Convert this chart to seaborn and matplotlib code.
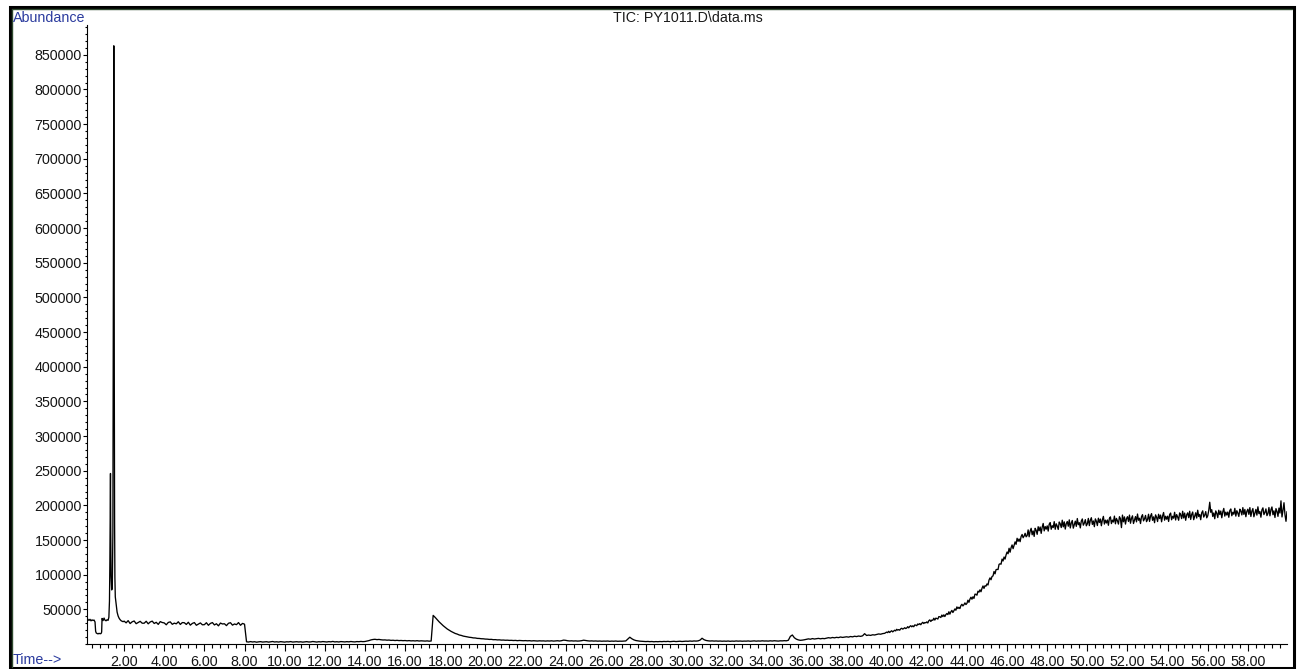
import numpy as np
import pandas as pd
import matplotlib
matplotlib.use("Agg")
import matplotlib.pyplot as plt
from matplotlib.patches import Rectangle
from matplotlib.lines import Line2D
from matplotlib.ticker import FixedLocator, MultipleLocator, FuncFormatter
import seaborn as sns

# ---------------------------------------------------------------------------
# Total ion chromatogram, run PY1011.D  (abundance in thousands of counts)
# ---------------------------------------------------------------------------
TITLE = "TIC: PY1011.D\\data.ms"

# Solvent front / injection region, irregular scan times (min)
early_min = [0.15, 0.2, 0.25, 0.3, 0.35, 0.4, 0.45, 0.5, 0.55, 0.58,
             0.61, 0.65, 0.7, 0.75, 0.8, 0.85, 0.88, 0.9, 0.95, 1.0,
             1.05, 1.1, 1.15, 1.2, 1.24, 1.27, 1.29, 1.31, 1.32, 1.33,
             1.35, 1.38, 1.41, 1.44, 1.46, 1.475, 1.486, 1.50, 1.51, 1.525,
             1.54, 1.56, 1.6, 1.65, 1.7, 1.75, 1.8, 1.85, 1.9, 1.95]
early_k = [37.5, 35.2, 34.1, 35.6, 33.4, 34.8, 33.9, 34.6, 31.8, 18.5,
           15.9, 15.2, 14.6, 15.4, 14.8, 15.1, 17.2, 36.9, 33.8, 37.4,
           34.2, 33.5, 35.0, 34.1, 38.5, 62.0, 118.0, 205.0, 246.0, 175.0,
           98.0, 78.0, 80.5, 160.0, 470.0, 760.0, 863.0, 640.0, 390.0, 175.0,
           96.0, 68.0, 58.5, 46.0, 40.5, 37.2, 35.1, 33.6, 32.8, 32.2]

# Scans 0.1 min apart, one row per minute
tic_2_to_8 = [  # from 2.0 min
    33.0, 30.5, 33.7, 29.5, 32.0, 33.2, 29.3, 31.0, 32.7, 30.0,
    30.0, 32.8, 29.1, 31.8, 33.0, 29.6, 31.3, 28.3, 32.3, 31.0,
    30.4, 27.7, 31.1, 31.9, 28.4, 30.1, 29.1, 32.1, 28.2, 30.9,
    30.7, 28.2, 31.4, 27.2, 29.7, 30.9, 27.0, 28.7, 30.4, 27.7,
    27.9, 30.7, 27.0, 29.7, 30.9, 27.5, 29.2, 26.2, 30.2, 28.9,
    29.2, 26.5, 29.9, 30.7, 27.2, 28.9, 27.9, 30.9, 27.0, 29.7,
]
tic_8_to_17 = [  # from 8.0 min
    28.6, 3.2, 2.8, 3.5, 2.9, 3.3, 2.6, 3.1, 3.4, 2.8,
    3.0, 3.3, 2.7, 3.1, 3.6, 2.9, 3.2, 2.8, 3.4, 3.0,
    2.7, 3.2, 3.0, 3.5, 2.8, 3.1, 3.3, 2.9, 3.2, 2.7,
    3.1, 3.4, 2.9, 3.0, 3.6, 3.2, 2.8, 3.3, 3.0, 3.5,
    3.2, 2.9, 3.4, 3.1, 3.7, 3.0, 3.3, 2.9, 3.5, 3.2,
    3.0, 3.4, 3.1, 3.6, 3.2, 3.0, 3.5, 3.3, 3.7, 3.4,
    3.6, 4.2, 4.9, 5.9, 6.5, 6.8, 6.3, 6.6, 6.1, 5.8,
    5.9, 5.5, 5.7, 5.2, 5.4, 5.0, 5.3, 4.9, 5.1, 4.8,
    5.0, 4.6, 4.9, 4.5, 4.7, 4.4, 4.8, 4.3, 4.6, 4.4,
    4.2, 4.5, 4.1, 4.3,
]
tic_17_to_36 = [  # from 17.4 min
    41.3, 38.4, 35.1, 31.9, 29.2, 26.4,
    24.1, 21.7, 19.9, 18.1, 16.7, 15.2, 14.3, 13.0, 12.4, 11.4,
    10.9, 10.3, 9.7, 9.4, 8.8, 8.7, 8.1, 8.0, 7.6, 7.5,
    7.1, 7.0, 6.6, 6.7, 6.2, 6.3, 5.9, 6.0, 5.6, 5.7,
    5.4, 5.5, 5.2, 5.3, 5.0, 5.2, 4.8, 5.1, 4.9, 4.7,
    4.9, 4.6, 4.8, 4.4, 4.7, 4.5, 4.3, 4.6, 4.4, 4.5,
    4.2, 4.5, 4.3, 4.6, 4.2, 4.4, 4.7, 4.3, 4.8, 5.6,
    5.3, 4.7, 4.4, 4.6, 4.3, 4.5, 4.2, 4.4, 4.8, 5.5,
    5.0, 4.6, 4.3, 4.5, 4.2, 4.4, 4.1, 4.3, 4.0, 4.2,
    4.1, 4.3, 3.9, 4.2, 4.0, 4.3, 3.9, 4.1, 4.0, 4.2,
    4.4, 7.0, 9.8, 7.6, 6.0, 5.0, 4.5, 4.1, 3.9, 3.7,
    3.5, 3.7, 3.4, 3.6, 3.2, 3.5, 3.3, 3.6, 3.4, 3.7,
    3.5, 3.8, 3.4, 3.6, 3.9, 3.5, 3.7, 4.0, 3.6, 3.8,
    4.1, 3.9, 4.3, 4.0, 4.4, 4.2, 4.5, 5.6, 8.3, 6.2,
    5.1, 4.6, 4.3, 4.5, 4.2, 4.4, 4.1, 4.3, 4.0, 4.2,
    4.0, 4.3, 3.9, 4.2, 4.0, 4.4, 4.1, 4.3, 4.0, 4.2,
    4.1, 4.4, 4.0, 4.3, 4.5, 4.1, 4.4, 4.2, 4.6, 4.3,
    4.4, 4.2, 4.6, 4.3, 4.7, 4.4, 4.2, 4.6, 4.5, 4.8,
    4.6, 5.4, 11.0, 13.0, 9.0, 7.0, 5.9, 5.3, 5.6, 6.1,
]
tic_36_to_40 = [  # from 36.0 min
    6.8, 7.4, 6.9, 7.8, 7.2, 7.6, 8.1, 7.5, 8.0, 7.7,
    8.4, 9.1, 8.6, 9.4, 8.9, 9.6, 9.2, 10.1, 9.5, 10.0,
    10.4, 9.9, 10.8, 10.3, 11.2, 10.7, 11.5, 11.0, 11.8, 14.9,
    12.3, 12.9, 12.4, 13.3, 13.0, 13.8, 14.5, 14.1, 15.0, 15.4,
]
# Column bleed rise and plateau: scans 0.05 min apart, one row per minute
tic_40_to_60 = [  # from 40.0 min
    17.2, 16.4, 18.3, 16.6, 18.1, 19.1, 17.5, 18.7, 19.9, 18.9,
    21.2, 20.0, 20.8, 19.9, 21.9, 22.7, 21.5, 22.3, 23.5, 22.3,
    23.1, 25.0, 23.3, 25.3, 26.4, 24.8, 26.2, 24.9, 27.5, 27.2,
    26.4, 28.9, 28.0, 29.4, 27.8, 29.9, 31.3, 29.5, 31.0, 30.5,
    31.9, 30.3, 33.6, 34.8, 32.5, 34.5, 34.2, 37.2, 34.5, 37.3,
    36.8, 36.0, 39.5, 39.3, 38.2, 41.8, 39.5, 42.1, 39.6, 42.4,
    44.0, 42.4, 46.5, 43.1, 46.4, 48.5, 45.4, 48.0, 50.6, 48.7,
    53.5, 51.1, 53.0, 51.1, 55.4, 57.3, 54.9, 56.7, 59.3, 56.9,
    58.6, 63.2, 60.1, 64.7, 67.5, 64.6, 68.1, 65.8, 71.9, 71.7,
    70.4, 76.2, 74.8, 78.2, 75.4, 80.3, 83.7, 80.2, 84.0, 83.5,
    86.7, 85.1, 92.2, 95.4, 92.7, 97.4, 98.2, 104.6, 101.2, 107.2,
    107.7, 107.4, 114.9, 115.7, 115.1, 122.5, 119.8, 125.5, 122.5, 128.5,
    132.7, 130.2, 138.1, 132.4, 138.9, 142.9, 137.5, 142.4, 147.3, 143.8,
    152.5, 148.2, 151.5, 147.6, 155.1, 158.0, 153.3, 155.8, 159.7, 154.6,
    156.4, 164.6, 154.7, 162.9, 166.9, 157.6, 163.1, 155.2, 166.9, 163.9,
    158.2, 169.2, 163.4, 168.8, 159.6, 168.5, 173.9, 163.2, 169.4, 165.7,
    170.4, 162.9, 172.9, 175.1, 165.5, 170.6, 168.0, 176.5, 165.5, 173.4,
    170.1, 165.3, 176.0, 173.4, 168.0, 178.6, 169.0, 176.2, 165.8, 173.7,
    176.7, 169.9, 179.1, 167.4, 174.5, 178.2, 167.1, 172.2, 177.2, 169.7,
    181.0, 172.1, 175.0, 167.5, 177.4, 180.4, 171.4, 174.4, 179.4, 170.5,
    173.4, 181.2, 170.8, 178.6, 182.2, 172.5, 177.5, 169.2, 180.5, 177.1,
    170.9, 181.5, 175.3, 180.3, 170.6, 179.1, 184.1, 173.0, 178.7, 174.6,
    178.9, 171.3, 181.2, 183.4, 173.7, 178.7, 176.0, 184.5, 173.4, 181.2,
    177.8, 173.0, 183.6, 180.9, 167.9, 186.0, 176.3, 183.4, 173.0, 180.8,
    183.7, 176.8, 186.0, 174.2, 181.3, 184.9, 173.8, 178.8, 183.8, 176.2,
    187.5, 178.5, 181.4, 173.8, 183.7, 186.6, 177.6, 180.5, 185.5, 176.5,
    179.4, 187.2, 176.8, 184.5, 188.1, 178.4, 183.4, 175.0, 186.3, 182.9,
    176.7, 187.2, 181.0, 186.0, 176.3, 184.7, 189.7, 178.6, 184.3, 180.1,
    184.4, 176.8, 186.7, 188.9, 179.2, 184.2, 181.5, 190.0, 178.9, 186.7,
    183.3, 178.5, 189.1, 186.4, 180.9, 191.5, 181.8, 188.9, 178.5, 186.3,
    189.2, 182.3, 191.5, 179.7, 186.8, 190.4, 179.3, 184.3, 189.3, 181.7,
    193.0, 184.0, 186.9, 179.3, 189.2, 192.1, 183.1, 186.0, 191.0, 182.0,
    184.9, 192.7, 204.5, 190.1, 193.7, 184.0, 189.0, 180.7, 192.0, 188.6,
    182.4, 193.0, 186.8, 191.8, 182.1, 190.6, 195.6, 184.5, 190.2, 186.1,
    190.4, 182.8, 192.6, 194.8, 185.0, 190.0, 187.2, 195.7, 184.5, 192.3,
    188.8, 184.0, 194.5, 191.8, 186.2, 196.8, 187.0, 194.1, 183.6, 191.4,
    194.5, 187.0, 196.8, 184.0, 191.6, 195.4, 183.5, 188.8, 194.2, 185.9,
    197.9, 188.1, 191.1, 182.9, 193.4, 196.4, 186.7, 189.7, 194.9, 185.2,
    188.1, 196.9, 184.9, 193.7, 197.7, 186.5, 192.1, 182.5, 195.3, 191.3,
    184.1, 196.1, 188.9, 206.5, 183.3, 192.9, 203.8, 186.4, 177.0, 191.0,
]

# Axis ticks
x_major = list(range(2, 60, 2))
y_major = list(range(50000, 850001, 50000))


def scan_times(start, values, step):
    return np.round(start + step * np.arange(len(values)), 3)


time_min = np.concatenate([
    np.asarray(early_min),
    scan_times(2.0, tic_2_to_8, 0.1),
    scan_times(8.0, tic_8_to_17, 0.1),
    scan_times(17.4, tic_17_to_36, 0.1),
    scan_times(36.0, tic_36_to_40, 0.1),
    scan_times(40.0, tic_40_to_60, 0.05),
])
abundance = np.concatenate([early_k, tic_2_to_8, tic_8_to_17, tic_17_to_36,
                            tic_36_to_40, tic_40_to_60]) * 1000.0

df = pd.DataFrame({"time": time_min, "abundance": abundance})

# ---------------------------------------------------------------------------
sns.set_style("white")
plt.rcParams["font.family"] = ["Liberation Sans", "DejaVu Sans"]

W, H = 1298, 669
fig = plt.figure(figsize=(W / 100, H / 100), dpi=100, facecolor="white")
ax = fig.add_axes([87 / W, 25 / H, 1200 / W, 619 / H])
ax.set_facecolor("white")

sns.lineplot(data=df, x="time", y="abundance", ax=ax, color="black",
             linewidth=0.95, estimator=None, sort=False)

ax.set_xlim(0.15, 59.95)
ax.set_ylim(0, 893000)
ax.set_xlabel("")
ax.set_ylabel("")

for side in ("top", "right"):
    ax.spines[side].set_visible(False)
for side in ("left", "bottom"):
    ax.spines[side].set_color("black")
    ax.spines[side].set_linewidth(0.8)

ax.xaxis.set_major_locator(FixedLocator(x_major))
ax.xaxis.set_minor_locator(MultipleLocator(0.4))
ax.xaxis.set_major_formatter(FuncFormatter(lambda v, p: f"{v:.2f}"))
ax.yaxis.set_major_locator(FixedLocator(y_major))
ax.yaxis.set_minor_locator(MultipleLocator(10000))
ax.yaxis.set_major_formatter(FuncFormatter(lambda v, p: f"{int(round(v))}"))

ax.tick_params(axis="both", which="both", direction="out", color="black",
               width=0.8, labelsize=10.3, labelcolor="#151515",
               bottom=True, left=True, top=False, right=False)
ax.tick_params(axis="x", which="major", length=5.0, pad=3.0)
ax.tick_params(axis="x", which="minor", length=3.2)
ax.tick_params(axis="y", which="major", length=3.0, pad=0.6)
ax.tick_params(axis="y", which="minor", length=1.8)

BLUE = "#2b3b9e"
fig.text(13 / W, 1 - 21.7 / H, "Abundance", color=BLUE, fontsize=10.3,
         ha="left", va="baseline")
fig.text(13 / W, 1 - 664 / H, "Time-->", color=BLUE, fontsize=10.3,
         ha="left", va="baseline")
fig.text(687.5 / W, 1 - 22.5 / H, TITLE, color="#1a1a1a", fontsize=10.3,
         ha="center", va="baseline")

# window frame
fig.add_artist(Rectangle((9.5 / W, 1.5 / H), 1284 / W, 661 / H,
                         transform=fig.transFigure, fill=False,
                         edgecolor="black", linewidth=2.2))
fig.add_artist(Line2D([11.8 / W, 11.8 / W], [2.5 / H, 660.5 / H],
                      transform=fig.transFigure, color="#2f4a2f",
                      linewidth=1.0))
fig.add_artist(Line2D([11.8 / W, 1291.5 / W], [660.5 / H, 660.5 / H],
                      transform=fig.transFigure, color="#2f4a2f",
                      linewidth=1.0))

fig.savefig("out.png", dpi=100, facecolor="white")
